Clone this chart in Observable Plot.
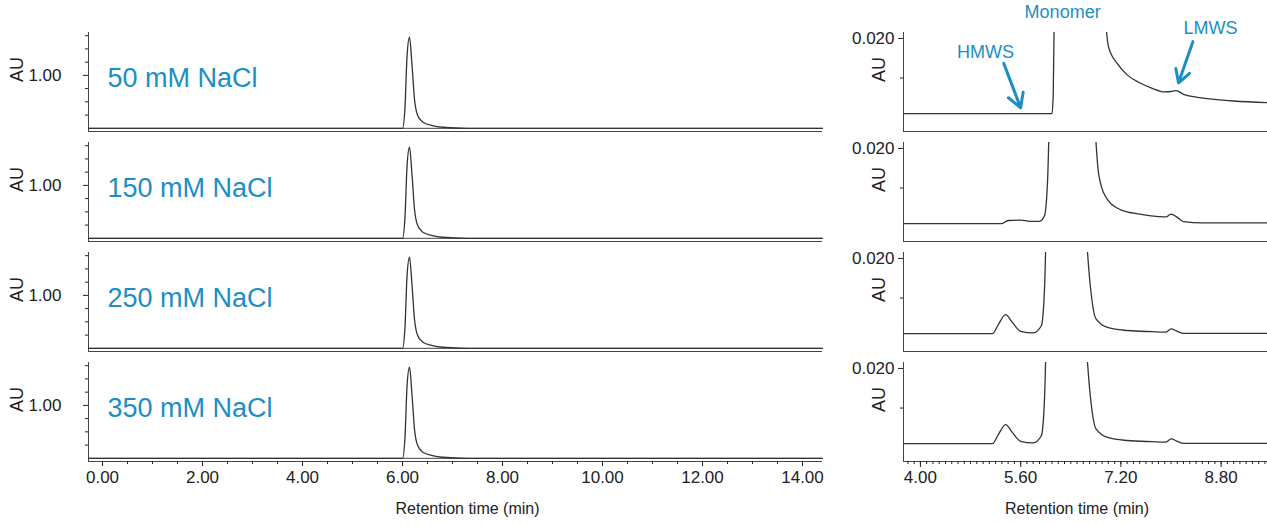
<!DOCTYPE html>
<html><head><meta charset="utf-8">
<script src="https://cdn.jsdelivr.net/npm/d3@7"></script>
<script src="https://cdn.jsdelivr.net/npm/@observablehq/plot@0.6"></script>
<style>
body{margin:0;background:#fff;font-family:"Liberation Sans",Arial,sans-serif;}
#wrap{position:relative;width:1267px;height:525px;}
#left{position:absolute;left:0;top:0;}
#right{position:absolute;left:835px;top:0;}
</style></head><body>
<div id="wrap"><div id="left"></div><div id="right"></div></div>
<script>
const salts = ['50 mM NaCl', '150 mM NaCl', '250 mM NaCl', '350 mM NaCl'];
const blue = '#1b8fc4';

// full chromatogram, same for every salt
const fullTime = [-0.28, 6.0, 6.05, 6.09, 6.14, 6.19, 6.24, 6.3, 6.4, 6.6, 6.8, 7.3, 14.4];
const fullAU = [0, 0, 0.4, 1.35, 1.72, 1.2, 0.55, 0.25, 0.12, 0.05, 0.02, 0, 0];

// zoomed view, one series per salt
const zoomTime = [
  [3.73, 6.1, 6.12, 6.14, null, 6.93, 7.0, 7.15, 7.3, 7.5, 7.7, 7.9, 8.0, 8.08, 8.2, 8.4, 8.7, 9.0, 9.54],
  [3.73, 5.3, 5.4, 5.6, 5.75, 5.9, 5.98, 6.03, 6.06, null, 6.77, 6.85, 7.0, 7.2, 7.5, 7.8, 7.92, 8.0, 8.1, 8.2, 8.5, 9.54],
  [3.73, 5.15, 5.25, 5.36, 5.47, 5.6, 5.8, 5.93, 5.98, 6.01, null, 6.63, 6.7, 6.8, 7.0, 7.3, 7.7, 7.92, 8.0, 8.1, 8.2, 9.54],
  [3.73, 5.15, 5.25, 5.36, 5.47, 5.6, 5.8, 5.93, 5.98, 6.01, null, 6.63, 6.7, 6.8, 7.0, 7.3, 7.7, 7.92, 8.0, 8.1, 8.2, 9.54]
];
const zoomAU = [
  [0.001, 0.001, 0.006, 0.03, null, 0.03, 0.018, 0.0135, 0.0108, 0.0088, 0.0074, 0.0065, 0.0066, 0.0068, 0.0059, 0.0052, 0.0046, 0.0042, 0.0038],
  [0.001, 0.001, 0.0018, 0.0019, 0.0016, 0.0016, 0.003, 0.012, 0.03, null, 0.03, 0.013, 0.0068, 0.0045, 0.0034, 0.0028, 0.0027, 0.0034, 0.0026, 0.0015, 0.0012, 0.0012],
  [0.001, 0.001, 0.0035, 0.0058, 0.0038, 0.0016, 0.0012, 0.003, 0.012, 0.03, null, 0.03, 0.015, 0.0048, 0.0025, 0.0018, 0.0015, 0.0014, 0.0022, 0.0016, 0.0011, 0.0011],
  [0.001, 0.001, 0.0035, 0.0058, 0.0038, 0.0016, 0.0012, 0.003, 0.012, 0.03, null, 0.03, 0.015, 0.0048, 0.0025, 0.0018, 0.0015, 0.0014, 0.0022, 0.0016, 0.0011, 0.0011]
];

const fullRows = salts.flatMap(s => fullTime.map((t, i) => ({salt: s, t, au: fullAU[i]})));
const zoomRows = salts.flatMap((s, k) => zoomTime[k].map((t, i) => ({salt: s, t, au: zoomAU[k][i]})));
const last = salts[salts.length - 1];
const fs = 17;

const common = {
  height: 525, marginTop: 30, marginBottom: 63,
  style: {fontFamily: '"Liberation Sans", Arial, sans-serif', fontSize: '17px', color: '#222'},
  fy: {domain: salts, axis: null, padding: 0.1},
};

const leftY = [-0.06, 1.81];
const left = Plot.plot({
  ...common,
  width: 835, marginLeft: 88, marginRight: 13,
  x: {domain: [-0.28, 14.4]},
  y: {domain: leftY},
  marks: [
    Plot.ruleY(salts, {fy: d => d, y: leftY[0], stroke: '#444'}),
    Plot.ruleX(salts, {fy: d => d, x: -0.28, stroke: '#444'}),
    Plot.axisX({ticks: d3.range(0, 14.01, 2), tickFormat: '.2f', label: null, tickSize: 5, fontSize: fs}),
    Plot.axisX({ticks: d3.range(0, 14.4, 0.5), tickFormat: () => '', tickSize: 3, label: null}),
    Plot.text([last], {fy: d => d, text: () => 'Retention time (min)', frameAnchor: 'bottom', dy: 52, x: 7.3, fontSize: 16}),
    Plot.axisY({ticks: [1], tickFormat: '.2f', label: null, tickSize: 5, tickPadding: 22, fontSize: fs}),
    Plot.axisY({ticks: [0.25, 0.5, 0.75, 1.25, 1.5, 1.75], tickFormat: () => '', tickSize: 3, label: null}),
    Plot.text(salts, {fy: d => d, text: () => 'AU', frameAnchor: 'left', dx: -71, rotate: -90, fontSize: 18}),
    Plot.text(salts, {fy: d => d, text: d => d, x: 0.1, y: 0.95, textAnchor: 'start', fontSize: 27, fill: blue}),
    Plot.ruleY(salts, {fy: d => d, y: 0, stroke: '#444'}),
    Plot.line(fullRows, {x: 't', y: 'au', fy: 'salt', stroke: '#333', strokeWidth: 1.3, curve: 'monotone-x'})
  ]
});
document.getElementById('left').append(left);

const rightY = [-0.0035, 0.0215];
const arrows = [
  {x1: 5.33, y1: 0.0137, x2: 5.6, y2: 0.0025},
  {x1: 8.35, y1: 0.0192, x2: 8.12, y2: 0.0088}
];
const labels = [
  {x: 5.04, y: 0.0164, text: 'HMWS'},
  {x: 6.27, y: 0.0265, text: 'Monomer'},
  {x: 8.63, y: 0.0225, text: 'LMWS'}
];
const right = Plot.plot({
  ...common,
  width: 432, marginLeft: 68, marginRight: 0,
  x: {domain: [3.73, 9.54]},
  y: {domain: rightY},
  marks: [
    Plot.ruleY(salts, {fy: d => d, y: rightY[0], stroke: '#444'}),
    Plot.ruleX(salts, {fy: d => d, x: 3.73, stroke: '#444'}),
    Plot.axisX({ticks: [4, 5.6, 7.2, 8.8], tickFormat: '.2f', label: null, tickSize: 6, fontSize: fs}),
    Plot.axisX({ticks: d3.range(3.8, 9.54, 0.1), tickFormat: () => '', tickSize: 3, label: null}),
    Plot.text([last], {fy: d => d, text: () => 'Retention time (min)', frameAnchor: 'bottom', dy: 52, x: 6.5, fontSize: 16}),
    Plot.axisY({ticks: [0.02], tickFormat: '.3f', label: null, tickSize: 5, fontSize: fs}),
    Plot.axisY({ticks: [0.01], tickFormat: () => '', tickSize: 3, label: null}),
    Plot.text(salts, {fy: d => d, text: () => 'AU', frameAnchor: 'left', dx: -24, rotate: -90, fontSize: 18}),
    Plot.line(zoomRows, {x: 't', y: 'au', fy: 'salt', stroke: '#333', strokeWidth: 1.3, curve: 'monotone-x', clip: true}),
    Plot.arrow(arrows, {x1: 'x1', y1: 'y1', x2: 'x2', y2: 'y2', fy: () => salts[0], stroke: blue, strokeWidth: 3, headLength: 12}),
    Plot.text(labels, {x: 'x', y: 'y', text: 'text', fy: () => salts[0], fill: blue, fontSize: 18})
  ]
});
document.getElementById('right').append(right);
</script>
</body></html>
